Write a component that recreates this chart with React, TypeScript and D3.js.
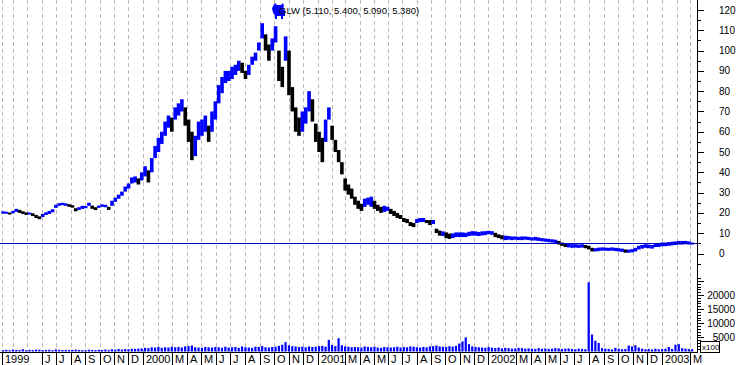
import React, { useEffect, useRef } from 'react';
import * as d3 from 'd3';

// weekly bars, first week starts Mon 8 Mar 1999
const firstWeek = new Date(1999, 2, 8);

const weekHigh = [
  20.8, 20.6, 20.2, 21, 22, 21.5, 20.8, 20.3, 20.2, 19.8,
  19, 18.3, 19.5, 20.3, 21, 21.8, 24, 24.8, 25, 24.7,
  24.3, 23.8, 22.3, 22.8, 23.5, 23.4, 25, 23.6, 22.8, 23.6,
  24.2, 24, 23, 26, 27.5, 29, 30.5, 33, 34.5, 37.5,
  38, 37, 40, 43, 41, 47, 53, 57, 60, 65,
  68, 67, 72, 74, 76, 72, 66, 60, 58, 65,
  66, 68, 63, 70, 75, 83, 87, 90, 90, 92,
  93, 95, 94, 90, 93, 97, 99, 104, 113.5, 108,
  103, 106, 112, 100, 92, 107, 100, 82, 72, 67,
  70, 72, 80, 76, 64, 60, 57, 66, 72, 63,
  56, 51, 45, 37, 34, 32, 28, 26, 24.5, 27,
  27.5, 28, 26, 24, 23, 23.5, 23, 22, 21, 20,
  19, 17.5, 17, 15.5, 15, 17, 17.5, 17.5, 16.5, 16.5,
  16.5, 12.2, 11.3, 10.9, 10.4, 9.8, 9.9, 10.4, 10.4, 10.4,
  10.2, 10.7, 11, 10.9, 10.6, 10.9, 11, 11.2, 11, 10.2,
  9.4, 9, 8.8, 8.6, 8.4, 8.4, 8.2, 8.4, 8.4, 8.2,
  8, 8.2, 7.9, 7.6, 7.4, 7.2, 7, 6.8, 6.2, 5.4,
  5, 4.8, 4.6, 4.6, 4.4, 4.6, 4.2, 3.8, 2.8, 2.6,
  2.9, 3, 2.9, 2.8, 3, 2.8, 2.6, 2.4, 2, 1.9,
  2.2, 2.8, 3.8, 4.2, 4.6, 4.4, 4.2, 5, 5.2, 5.4,
  5.4, 5.6, 5.8, 6, 6.2, 6.2, 6.2, 6, 5.4,
];

const weekLow = [
  19.6, 19.8, 19.2, 19.8, 20.5, 20, 19.5, 19, 19.2, 18.5,
  17.5, 16.9, 18, 19, 19.5, 20.3, 22.5, 23.5, 23.8, 23.5,
  23, 22.6, 20.8, 21.5, 22, 22.3, 23.5, 22, 21.4, 22.5,
  23, 22.8, 21.5, 23.5, 25.5, 27, 28.5, 30.5, 32, 34.5,
  35, 34, 36, 38, 35, 40, 47, 50, 54, 58,
  62, 60, 66, 68, 70, 63, 55, 46, 48, 56,
  58, 60, 55, 60, 66, 74, 79, 84, 85, 86,
  88, 90, 89, 86, 88, 93, 95, 100, 106, 100,
  95, 100, 104, 85, 82, 95, 78, 70, 60, 58,
  60, 64, 70, 65, 55, 50, 45, 55, 66, 56,
  50, 45, 39, 31, 29, 27, 24, 22, 21, 23,
  24, 23, 22, 21, 20, 20.5, 21, 19.5, 18.5, 17.5,
  17, 15.5, 15, 13.5, 13, 15, 15.5, 15.5, 15, 14,
  14.5, 10.1, 8.8, 8.6, 7.6, 7.2, 7.6, 8.1, 8.1, 8.1,
  8.1, 8.6, 8.8, 8.8, 8.6, 8.9, 9.1, 9.6, 9.2, 8.1,
  7.6, 7, 6.6, 6.8, 6.6, 6.8, 6.6, 6.6, 6.8, 6.6,
  6.4, 6.4, 6.2, 6, 5.8, 5.6, 5.4, 5.2, 4.4, 3.8,
  3.2, 3, 2.8, 2.9, 2.8, 2.9, 2.6, 2, 1, 1,
  1.2, 1.4, 1.4, 1.3, 1.4, 1.2, 1, 0.8, 0.4, 0.4,
  0.6, 1, 2, 2.4, 2.8, 2.6, 2.4, 3.2, 3.2, 3.6,
  3.6, 3.8, 4, 4.2, 4.4, 4.4, 4.6, 4.4, 5.09,
];

// volume in x100 shares (peak day of each week)
const weekVolume = [
  500, 600, 450, 700, 550, 500, 800, 450, 600, 500,
  700, 650, 500, 550, 600, 450, 750, 600, 500, 550,
  500, 600, 700, 550, 500, 450, 650, 550, 500, 600,
  550, 700, 500, 800, 650, 900, 700, 850, 800, 950,
  900, 1000, 1100, 1300, 1200, 1500, 1400, 1600, 1300, 1500,
  1400, 1700, 1500, 1600, 1400, 1800, 1900, 2100, 1500, 1400,
  1300, 1600, 1500, 1400, 1600, 1500, 1300, 1700, 1400, 1500,
  1600, 1300, 1800, 1500, 1400, 1300, 1700, 1600, 1900, 1500,
  1400, 1600, 1700, 2000, 2400, 3300, 2200, 1900, 1800, 1600,
  1700, 1500, 1800, 1600, 1700, 1900, 2000, 1700, 4100, 2300,
  1900, 4700, 2200, 1800, 1700, 1500, 1600, 1500, 1400, 1800,
  1600, 1500, 1700, 1400, 1300, 1600, 1500, 1400, 1500, 1700,
  1400, 1600, 1500, 1800, 1700, 1500, 1400, 1600, 1500, 1800,
  1900, 2100, 1800, 1700, 1600, 1900, 1700, 2000, 2800, 3600,
  5000, 2600, 1800, 1600, 1500, 1400, 1300, 1600, 1300, 1200,
  1400, 1100, 1300, 1200, 1000, 1100, 1300, 1200, 1000, 1100,
  1000, 900, 1200, 1000, 1100, 900, 1000, 1200, 1100, 900,
  1000, 1100, 900, 800, 1000, 900, 800, 24500, 6000, 3800,
  3000, 1200, 1000, 900, 700, 1300, 1000, 800, 900, 2100,
  1800, 2200, 1400, 1000, 800, 900, 700, 1000, 800, 900,
  1000, 1600, 900, 2400, 2600, 1200, 1000, 900, 800,
];

const lastQuote = [5.11, 5.4, 5.09, 5.38]; // open, high, low, close
const priceLabels = [0, 10, 20, 30, 40, 50, 60, 70, 80, 90, 100, 110, 120];
const volumeLabels = [5000, 10000, 15000, 20000];
const monthLetters = ['J', 'F', 'M', 'A', 'M', 'J', 'J', 'A', 'S', 'O', 'N', 'D'];

const BLUE = '#0000ff';
const FONT = '"Liberation Sans", Arial, sans-serif';

export default function App() {
  const svgRef = useRef<SVGSVGElement>(null);

  useEffect(() => {
    if (!svgRef.current) return;
    const svg = d3.select(svgRef.current);
    svg.selectAll('*').remove();

    const axisX = 697.5;
    const baseY = 352.5;

    const x = d3.scaleTime()
      .domain([new Date(1999, 2, 8), new Date(2000, 0, 1), new Date(2001, 0, 1),
        new Date(2002, 0, 1), new Date(2003, 0, 1), new Date(2003, 2, 7)])
      .range([2, 143, 318, 488, 662, 693]);
    const y = d3.scaleLinear().domain([0, 120]).range([253.5, 10]);
    const yv = d3.scaleLinear().domain([0, 20000]).range([351.5, 295]);

    const n = Math.min(weekHigh.length, weekLow.length);
    const dates = d3.range(n).map(i => d3.timeDay.offset(firstWeek, i * 7 + 2));

    // month grid
    const months = d3.timeMonth.range(new Date(1999, 3, 1), new Date(2003, 2, 2));
    const gridXs = [x(new Date(1999, 2, 8)), ...months.map(m => x(m))];
    svg.append('g')
      .selectAll('line')
      .data(gridXs)
      .join('line')
      .attr('x1', d => Math.round(d) + 0.5)
      .attr('x2', d => Math.round(d) + 0.5)
      .attr('y1', 0)
      .attr('y2', baseY)
      .attr('stroke', '#b8b8b8')
      .attr('stroke-dasharray', '4,3')
      .attr('shape-rendering', 'crispEdges');

    // price bars
    const step = x(dates[1]) - x(dates[0]);
    const mid = (i: number) => (weekHigh[i] + weekLow[i]) / 2;
    svg.append('g')
      .selectAll('rect')
      .data(d3.range(n))
      .join('rect')
      .attr('x', i => x(dates[i]) - step / 2)
      .attr('width', step + 0.3)
      .attr('y', i => y(weekHigh[i]))
      .attr('height', i => Math.max(2, y(weekLow[i]) - y(weekHigh[i])))
      .attr('fill', i => (i > 0 && mid(i) < mid(i - 1) - 0.3 ? '#000' : BLUE));

    // last close line
    const yc = Math.round(y(lastQuote[3])) + 0.5;
    svg.append('line')
      .attr('x1', 0).attr('x2', axisX)
      .attr('y1', yc).attr('y2', yc)
      .attr('stroke', '#0000c8')
      .attr('shape-rendering', 'crispEdges');

    // volume bars
    svg.append('g')
      .selectAll('rect')
      .data(d3.range(Math.min(n, weekVolume.length)))
      .join('rect')
      .attr('x', i => x(dates[i]) - 1)
      .attr('width', 2.2)
      .attr('y', i => yv(weekVolume[i]))
      .attr('height', i => yv(0) - yv(weekVolume[i]))
      .attr('fill', BLUE);

    // right axis line
    svg.append('line')
      .attr('x1', axisX).attr('x2', axisX)
      .attr('y1', 0).attr('y2', baseY)
      .attr('stroke', '#000')
      .attr('shape-rendering', 'crispEdges');

    // price ticks
    const pt = svg.append('g').attr('shape-rendering', 'crispEdges');
    pt.selectAll('line')
      .data(d3.range(-5, 121, 5))
      .join('line')
      .attr('x1', axisX)
      .attr('x2', d => axisX + (d % 10 === 0 ? 6 : 3))
      .attr('y1', d => Math.round(y(d)) + 0.5)
      .attr('y2', d => Math.round(y(d)) + 0.5)
      .attr('stroke', '#000');
    svg.append('g')
      .selectAll('text')
      .data(priceLabels)
      .join('text')
      .attr('x', 719)
      .attr('y', d => y(d) + 3.5)
      .attr('font-family', FONT)
      .attr('font-size', 10)
      .text(d => String(d));

    // volume ticks
    const vt = svg.append('g').attr('shape-rendering', 'crispEdges');
    vt.selectAll('line')
      .data(d3.range(1000, 26001, 1000))
      .join('line')
      .attr('x1', axisX)
      .attr('x2', d => axisX + (d % 5000 === 0 ? 6 : 3))
      .attr('y1', d => Math.round(yv(d)) + 0.5)
      .attr('y2', d => Math.round(yv(d)) + 0.5)
      .attr('stroke', '#000');
    svg.append('g')
      .selectAll('text')
      .data(volumeLabels)
      .join('text')
      .attr('x', 735)
      .attr('y', d => yv(d) + 3.5)
      .attr('text-anchor', 'end')
      .attr('font-family', FONT)
      .attr('font-size', 10)
      .text(d => String(d));

    // x100 box
    svg.append('rect')
      .attr('x', 700.5).attr('y', 341.5)
      .attr('width', 19).attr('height', 11)
      .attr('fill', '#fff')
      .attr('stroke', '#000')
      .attr('shape-rendering', 'crispEdges');
    svg.append('text')
      .attr('x', 702).attr('y', 350)
      .attr('font-family', FONT)
      .attr('font-size', 8)
      .text('x100');

    // x axis
    svg.append('line')
      .attr('x1', 0).attr('x2', axisX)
      .attr('y1', baseY).attr('y2', baseY)
      .attr('stroke', '#000')
      .attr('shape-rendering', 'crispEdges');

    const labelled: { d: Date; label: string }[] = [{ d: new Date(1999, 2, 8), label: '1999' }];
    months.forEach(m => {
      const mo = m.getMonth();
      if (mo === 1) return;
      if (m.getFullYear() === 1999 && (mo === 3 || mo === 4)) return;
      labelled.push({ d: m, label: mo === 0 ? String(m.getFullYear()) : monthLetters[mo] });
    });
    const xt = svg.append('g');
    xt.selectAll('line')
      .data(labelled)
      .join('line')
      .attr('x1', d => Math.round(x(d.d)) + 0.5)
      .attr('x2', d => Math.round(x(d.d)) + 0.5)
      .attr('y1', baseY)
      .attr('y2', 365)
      .attr('stroke', '#000')
      .attr('stroke-width', 1.5)
      .attr('shape-rendering', 'crispEdges');
    xt.selectAll('text')
      .data(labelled)
      .join('text')
      .attr('x', d => Math.round(x(d.d)) + 3)
      .attr('y', 363)
      .attr('font-family', FONT)
      .attr('font-size', 11)
      .text(d => d.label);

    // title with icon
    svg.append('path')
      .attr('d', 'M272,8 l3,-5 l2,2 l4,0 l2,-2 l1,3 l-1,3 l2,1 l0,6 l-2,0 l0,3 l-2,0 l0,-3 l-4,0 l0,3 l-2,0 l0,-4 l-2,-2 z')
      .attr('fill', BLUE);
    svg.append('text')
      .attr('x', 279)
      .attr('y', 14)
      .attr('font-family', FONT)
      .attr('font-size', 9.5)
      .text(`GLW (${lastQuote.map(v => v.toFixed(3)).join(', ')})`);
  }, []);

  return (
    <div style={{ position: 'absolute', left: 0, top: 0, background: '#fff' }}>
      <svg ref={svgRef} width={738} height={365} style={{ display: 'block' }} />
    </div>
  );
}
